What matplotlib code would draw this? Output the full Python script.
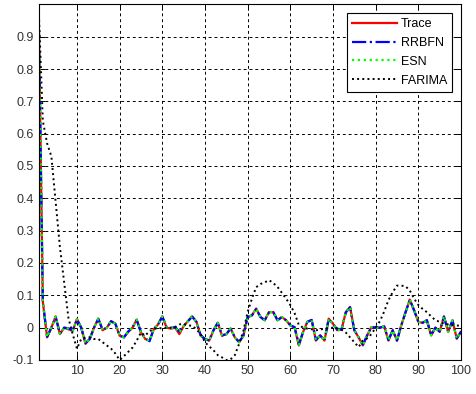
import numpy as np
import matplotlib
matplotlib.use('Agg')
import matplotlib.pyplot as plt

plt.rcParams['font.family'] = ['Liberation Sans', 'DejaVu Sans']

lags = list(range(1, 101))

trace = [1.0, 0.08, -0.03, 0.0, 0.035, -0.02, 0.0, -0.005, -0.01, 0.027,
         0.0, -0.05, -0.035, 0.0, 0.028, -0.008, 0.0, 0.02, 0.012, -0.025,
         -0.03, -0.013, 0.0, 0.025, -0.015, -0.035, -0.04, -0.005, 0.01, 0.035,
         0.0, -0.003, 0.0, -0.02, 0.005, 0.02, 0.035, 0.018, -0.025, -0.035,
         -0.04, -0.008, 0.015, -0.025, -0.02, -0.003, -0.03, -0.045, -0.025, 0.033,
         0.038, 0.059, 0.033, 0.023, 0.048, 0.048, 0.023, 0.033, 0.023, 0.007,
         0.0, -0.055, -0.013, 0.018, 0.023, -0.04, -0.024, -0.04, 0.028, 0.012,
         -0.008, -0.006, 0.048, 0.064, -0.008, -0.03, -0.055, -0.024, 0.002, 0.0,
         0.0, 0.004, -0.04, -0.008, -0.04, 0.007, 0.048, 0.087, 0.054, 0.018,
         0.015, 0.023, -0.024, 0.0, -0.013, 0.035, -0.013, 0.023, -0.034, -0.013]

rrbfn = [1.0, 0.08, -0.028, 0.0, 0.033, -0.018, 0.0, -0.002, -0.008, 0.025,
         0.0, -0.048, -0.035, 0.0, 0.027, -0.006, 0.0, 0.02, 0.012, -0.024,
         -0.03, -0.012, 0.0, 0.024, -0.014, -0.033, -0.042, -0.004, 0.01, 0.034,
         0.002, -0.001, 0.002, -0.012, 0.005, 0.02, 0.034, 0.018, -0.024, -0.035,
         -0.04, -0.008, 0.015, -0.024, -0.02, -0.003, -0.03, -0.044, -0.025, 0.033,
         0.038, 0.058, 0.033, 0.023, 0.047, 0.048, 0.023, 0.032, 0.023, 0.007,
         0.002, -0.052, -0.013, 0.018, 0.024, -0.038, -0.024, -0.04, 0.027, 0.012,
         -0.006, -0.005, 0.047, 0.063, -0.008, -0.03, -0.052, -0.024, 0.002, 0.0,
         0.0, 0.004, -0.038, -0.008, -0.04, 0.007, 0.047, 0.086, 0.054, 0.018,
         0.015, 0.023, -0.023, 0.0, -0.012, 0.034, -0.013, 0.022, -0.033, -0.012]

esn = [1.0, 0.08, -0.029, 0.0, 0.034, -0.019, 0.0, -0.003, -0.009, 0.026,
       0.0, -0.049, -0.035, 0.0, 0.028, -0.007, 0.0, 0.02, 0.012, -0.025,
       -0.03, -0.012, 0.0, 0.025, -0.015, -0.034, -0.041, -0.005, 0.01, 0.035,
       0.001, -0.002, 0.001, -0.015, 0.005, 0.02, 0.035, 0.018, -0.025, -0.035,
       -0.04, -0.008, 0.015, -0.025, -0.02, -0.003, -0.03, -0.045, -0.025, 0.033,
       0.038, 0.059, 0.033, 0.023, 0.048, 0.048, 0.023, 0.033, 0.023, 0.007,
       0.001, -0.054, -0.013, 0.018, 0.023, -0.039, -0.024, -0.04, 0.028, 0.012,
       -0.007, -0.006, 0.048, 0.064, -0.008, -0.03, -0.054, -0.024, 0.002, 0.0,
       0.0, 0.004, -0.039, -0.008, -0.04, 0.007, 0.048, 0.087, 0.054, 0.018,
       0.015, 0.023, -0.024, 0.0, -0.013, 0.035, -0.013, 0.023, -0.034, -0.013]

farima = [1.0, 0.64, 0.57, 0.53, 0.39, 0.25, 0.14, 0.03, -0.02, -0.065,
          -0.035, -0.03, -0.03, -0.035, -0.035, -0.045, -0.055, -0.065, -0.08, -0.1,
          -0.088, -0.075, -0.062, -0.04, -0.015, -0.025, -0.01, -0.005, 0.0, -0.003,
          0.0, 0.0, 0.002, 0.01, 0.012, 0.007, 0.006, -0.005, -0.02, -0.045,
          -0.058, -0.07, -0.085, -0.092, -0.1, -0.098, -0.085, -0.05, -0.01, 0.048,
          0.09, 0.125, 0.135, 0.14, 0.147, 0.138, 0.126, 0.108, 0.09, 0.07,
          0.045, 0.008, 0.0, -0.003, -0.005, -0.008, -0.006, -0.003, -0.002, 0.0,
          -0.002, -0.006, -0.015, -0.03, -0.045, -0.06, -0.04, -0.033, -0.02, 0.0,
          0.02, 0.05, 0.085, 0.11, 0.13, 0.13, 0.128, 0.115, 0.09, 0.07,
          0.058, 0.048, 0.035, 0.023, 0.018, 0.012, 0.01, 0.008, 0.007, 0.005]

fig = plt.figure(figsize=(4.76, 3.94), dpi=100)
ax = fig.add_axes([0.081, 0.0863, 0.8875, 0.9027])

ax.plot(lags, trace, color='#ff0000', linestyle='-', lw=1.6, label='Trace')
ax.plot(lags, rrbfn, color='#0000ff', linestyle='-.', lw=1.6, label='RRBFN')
ax.plot(lags, esn, color='#00ff00', linestyle=':', lw=1.6, label='ESN')
ax.plot(lags, farima, color='black', linestyle=':', lw=1.4, label='FARIMA')

ax.set_xlim(1, 100)
ax.set_ylim(-0.1, 1.0)
ax.set_xticks(np.arange(10, 101, 10))
ax.set_yticks(np.round(np.arange(-0.1, 0.91, 0.1), 1))
ax.set_yticklabels(['-0.1', '0', '0.1', '0.2', '0.3', '0.4', '0.5', '0.6', '0.7', '0.8', '0.9'])

ax.grid(True, color='black', linestyle=(0, (3, 3)), lw=0.7)
ax.tick_params(direction='in', top=True, right=True, labelsize=9, length=4, width=0.7,
               colors='black', labelcolor='#333333')
for s in ax.spines.values():
    s.set_linewidth(0.8)

leg = ax.legend(loc='upper right', fontsize=9, fancybox=False, framealpha=1,
                edgecolor='black', handlelength=3.6, labelspacing=0.55,
                borderaxespad=0.7, handletextpad=0.3, borderpad=0.4)
leg.get_frame().set_linewidth(0.8)

plt.savefig('out.png', dpi=100)
plt.close()
